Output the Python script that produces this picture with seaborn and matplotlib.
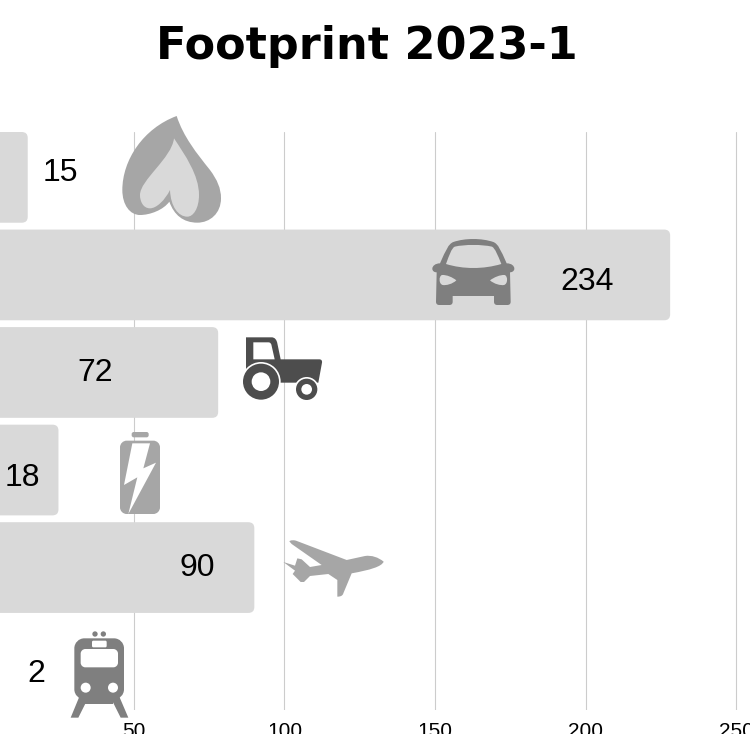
import matplotlib
matplotlib.use("Agg")
import matplotlib.pyplot as plt
import seaborn as sns
import pandas as pd
from matplotlib.patches import FancyBboxPatch, PathPatch, Circle
from matplotlib.path import Path
from matplotlib.transforms import Affine2D

# chart data
categories = ["Gas", "Car", "Farming", "Electricity", "Flights", "Train"]
bar_lengths = [14.8, 228, 78, 25, 90, 2]
value_labels = ["15", "234", "72", "18", "90", "2"]
tick_values = [50, 100, 150, 200, 250]

# where the printed numbers sit (x in data units, y shift in pixels from bar centre)
label_x = [25.7, 200.3, 37.3, 13.1, 70.9, 17.7]
label_shift = [4, -7, -1, -8, 0, -9]

W, H = 750, 734
BAR = "#d9d9d9"
LIGHT = "#a6a6a6"
MID = "#7f7f7f"
DARK = "#4d4d4d"

sns.set_theme(style="whitegrid")
plt.rcParams["font.family"] = ["Liberation Sans", "DejaVu Sans"]


def px_transform(ox, oy):
    # icon coordinates were measured on 3x crops of the picture
    return Affine2D().scale(1 / 3, -1 / 3).translate(ox, H - oy)


def shape(fig, d, origin, color):
    verts, codes = [], []
    tokens = d.split()
    i = 0
    while i < len(tokens):
        cmd = tokens[i]
        i += 1
        if cmd == "Z":
            verts.append((0, 0))
            codes.append(Path.CLOSEPOLY)
            continue
        n = 3 if cmd == "C" else 1
        for k in range(n):
            verts.append((float(tokens[i]), float(tokens[i + 1])))
            codes.append({"M": Path.MOVETO, "L": Path.LINETO, "C": Path.CURVE4}[cmd])
            i += 2
    fig.add_artist(PathPatch(Path(verts, codes), facecolor=color, edgecolor="none",
                             transform=px_transform(*origin)))


def dot(fig, x, y, r, origin, color):
    fig.add_artist(Circle((x, y), r, facecolor=color, edgecolor="none",
                          transform=px_transform(*origin)))


def round_box(x0, y0, x1, y1, r):
    c = r * 0.45
    return (f"M {x0 + r} {y0} L {x1 - r} {y0} C {x1 - c} {y0} {x1} {y0 + c} {x1} {y0 + r} "
            f"L {x1} {y1 - r} C {x1} {y1 - c} {x1 - c} {y1} {x1 - r} {y1} "
            f"L {x0 + r} {y1} C {x0 + c} {y1} {x0} {y1 - c} {x0} {y1 - r} "
            f"L {x0} {y0 + r} C {x0} {y0 + c} {x0 + c} {y0} {x0 + r} {y0} Z")


def draw_icons(fig):
    # flame
    o = (100, 100)
    shape(fig, "M 230 48 C 250 110 290 160 330 210 C 352 240 363 265 363 295 "
               "C 363 340 330 368 292 368 C 250 368 222 345 208 305 "
               "C 190 330 150 345 120 345 C 90 345 67 315 67 270 "
               "C 67 180 130 85 230 48 Z", o, LIGHT)
    shape(fig, "M 222 115 C 255 165 297 225 297 285 C 297 325 280 350 262 350 "
               "C 235 350 212 320 210 270 C 195 300 170 325 150 325 "
               "C 130 325 120 305 120 285 C 120 240 215 175 222 115 Z", o, BAR)

    # car
    o = (410, 220)
    shape(fig, "M 130 66 C 165 54 215 54 250 66 C 265 72 272 90 290 130 "
               "C 305 130 313 138 313 146 C 313 154 305 157 300 157 L 302 245 "
               "C 302 252 298 255 292 255 L 262 255 C 256 255 252 252 252 245 "
               "L 252 228 L 128 228 L 128 245 C 128 252 124 255 118 255 "
               "L 88 255 C 82 255 78 252 78 245 L 80 157 C 74 157 67 154 67 146 "
               "C 67 138 76 130 90 130 C 108 90 115 72 130 66 Z", o, MID)
    shape(fig, "M 134 80 C 165 73 215 73 246 80 C 256 86 263 105 274 132 "
               "C 220 148 160 148 108 132 C 118 105 124 86 134 80 Z", o, BAR)
    shape(fig, "M 96 165 C 110 164 128 172 139 181 C 128 192 108 197 98 195 "
               "C 86 192 86 168 96 165 Z", o, BAR)
    shape(fig, "M 284 165 C 270 164 252 172 240 181 C 252 192 272 197 282 195 "
               "C 294 192 294 168 284 165 Z", o, BAR)

    # tractor
    o = (100, 100)
    shape(fig, "M 438 712 L 515 712 C 525 712 530 720 532 730 L 542 778 L 658 778 "
               "C 664 778 667 782 666 788 L 655 848 L 500 848 L 438 848 Z", o, DARK)
    shape(fig, "M 460 727 L 505 727 C 512 727 514 732 515 738 L 524 778 L 460 778 Z", o, "white")
    dot(fig, 483, 845, 59, o, "white")
    dot(fig, 483, 845, 54, o, DARK)
    dot(fig, 483, 845, 28, o, "white")
    dot(fig, 620, 868, 37, o, "white")
    dot(fig, 620, 868, 32, o, DARK)
    dot(fig, 620, 868, 16, o, "white")

    # battery
    o = (50, 420)
    shape(fig, round_box(245, 36, 296, 52, 6), o, LIGHT)
    shape(fig, round_box(210, 62, 330, 282, 20), o, LIGHT)
    shape(fig, "M 247 70 L 300 70 L 280 145 L 318 128 L 235 282 L 262 172 L 222 195 Z", o, "white")

    # plane
    shape(fig, "M 718 364 C 722 360 730 360 738 362 L 890 420 L 945 408 "
               "C 965 405 985 412 1001 425 C 995 440 960 450 905 460 "
               "L 880 520 C 878 528 870 530 862 530 L 862 480 L 835 462 "
               "L 780 468 L 762 486 L 752 486 L 728 462 L 735 452 L 700 426 "
               "L 735 437 L 742 415 L 755 418 L 780 441 L 815 435 L 725 372 Z", o, LIGHT)

    # train
    dot(fig, 135, 642, 8, o, MID)
    dot(fig, 160, 642, 8, o, MID)
    shape(fig, round_box(73, 655, 222, 838, 30), o, MID)
    shape(fig, "M 105 835 L 190 835 L 190 852 L 105 852 Z", o, MID)
    shape(fig, "M 88 830 L 114 835 L 85 893 L 62 893 Z", o, MID)
    shape(fig, "M 183 835 L 208 830 L 235 893 L 212 893 Z", o, MID)
    shape(fig, round_box(126, 662, 170, 682, 4), o, "white")
    shape(fig, round_box(92, 687, 204, 742, 14), o, "white")
    dot(fig, 107, 803, 15, o, "white")
    dot(fig, 189, 803, 15, o, "white")


df = pd.DataFrame({"category": categories, "length": bar_lengths})

fig = plt.figure(figsize=(W / 100, H / 100), dpi=100)
ax = fig.add_axes([0, (H - 710) / H, 1, (710 - 132) / H])

sns.barplot(data=df, x="length", y="category", color=BAR, saturation=1, width=0.93, ax=ax, zorder=2)

# swap the square bars for rounded ones
for p in list(ax.patches):
    x, y, w, h = p.get_x(), p.get_y(), p.get_width(), p.get_height()
    p.remove()
    ax.add_patch(FancyBboxPatch((x, y), w, h, boxstyle="round,pad=0,rounding_size=2",
                                mutation_aspect=0.03, facecolor=BAR, edgecolor="none", zorder=2))

ax.set_xlim(5.6, 254.5)
ax.set_ylim(5.46, -0.465)
ax.set_xticks(tick_values)
ax.set_yticks([])
ax.set_xlabel("")
ax.set_ylabel("")
ax.grid(axis="x", color="#cccccc", linewidth=0.8)
ax.grid(axis="y", visible=False)
ax.set_axisbelow(True)
sns.despine(ax=ax, left=True, bottom=True)
ax.tick_params(axis="x", length=0, pad=8.5, labelsize=15, labelcolor="black")

for i, txt in enumerate(value_labels):
    ax.annotate(txt, (label_x[i], i), xytext=(0, label_shift[i]), textcoords="offset pixels",
                ha="center", va="center", fontsize=23, color="black", zorder=6)

fig.text(367 / W, (H - 59.5) / H, "Footprint 2023-1", ha="center", va="baseline",
         fontsize=32, fontweight="bold", family=["DejaVu Sans"], color="black")

draw_icons(fig)

fig.savefig("out.png", dpi=100)
